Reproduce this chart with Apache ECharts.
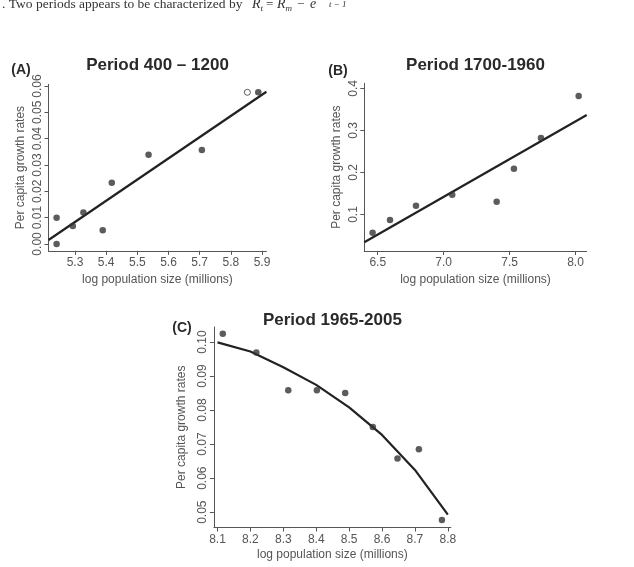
<!DOCTYPE html>
<html>
<head>
<meta charset="utf-8">
<script src="https://cdn.jsdelivr.net/npm/echarts@6/dist/echarts.min.js"></script>
<style>html,body{margin:0;padding:0;background:#fff}#c{width:634px;height:567px}</style>
</head>
<body>
<div id="c"></div>
<script>
// ---------- data ----------
// Panel A: Period 400 – 1200
const popA = [5.241, 5.241, 5.293, 5.327, 5.389, 5.418, 5.536, 5.707, 5.888];
const rateA = [0.0100, 0.0000, 0.0068, 0.0119, 0.0052, 0.0232, 0.0339, 0.0357, 0.0576];
const popA_open = [5.853];
const rateA_open = [0.0576];
const fitA_x = [5.215, 5.914];
const fitA_y = [0.0015, 0.0578];
const xTicksA = [5.3, 5.4, 5.5, 5.6, 5.7, 5.8, 5.9];
const yTicksA = [0.00, 0.01, 0.02, 0.03, 0.04, 0.05, 0.06];

// Panel B: Period 1700-1960
const popB = [6.461, 6.593, 6.790, 7.065, 7.402, 7.533, 7.738, 8.024];
const rateB = [0.0567, 0.0869, 0.1209, 0.1471, 0.1304, 0.2089, 0.2818, 0.3817];
const fitB_x = [6.398, 8.085];
const fitB_y = [0.034, 0.3365];
const xTicksB = [6.5, 7.0, 7.5, 8.0];
const yTicksB = [0.1, 0.2, 0.3, 0.4];

// Panel C: Period 1965-2005
const popC = [8.116, 8.218, 8.315, 8.402, 8.488, 8.572, 8.647, 8.712, 8.782];
const rateC = [0.1024, 0.0969, 0.0858, 0.0858, 0.0850, 0.0750, 0.0658, 0.0685, 0.0477];
const fitC_x = [8.1, 8.2, 8.3, 8.4, 8.5, 8.6, 8.7, 8.8];
const fitC_y = [0.0999, 0.0972, 0.0926, 0.0874, 0.0808, 0.0727, 0.0624, 0.0493];
const xTicksC = [8.1, 8.2, 8.3, 8.4, 8.5, 8.6, 8.7, 8.8];
const yTicksC = [0.05, 0.06, 0.07, 0.08, 0.09, 0.10];

const titles = ['Period 400 \u2013 1200', 'Period 1700-1960', 'Period 1965-2005'];
const panelTags = ['(A)', '(B)', '(C)'];
const xName = 'log population size (millions)';
const yName = 'Per capita growth rates';

// ---------- helpers ----------
const zip = (xs, ys) => xs.map((x, i) => [x, ys[i]]);
const FONT = 'Liberation Sans, Arial, sans-serif';
const AX = '#555';
const TXT = '#555';

function xAxisFor(gi, min, max, ticks, dec, gap) {
  return {
    type: 'value', gridIndex: gi, min: min, max: max, position: 'bottom',
    axisLine: {show: true, onZero: false, lineStyle: {color: AX, width: 1}},
    axisTick: {show: true, length: 4, customValues: ticks, lineStyle: {color: AX, width: 1}},
    axisLabel: {customValues: ticks, formatter: v => Number(v).toFixed(dec), margin: 6,
      color: TXT, fontSize: 12, fontFamily: FONT},
    splitLine: {show: false},
    name: xName, nameLocation: 'middle', nameGap: gap,
    nameTextStyle: {color: TXT, fontSize: 12, fontFamily: FONT}
  };
}
function yAxisFor(gi, min, max, ticks, dec, gap) {
  return {
    type: 'value', gridIndex: gi, min: min, max: max, position: 'left',
    axisLine: {show: true, onZero: false, lineStyle: {color: AX, width: 1}},
    axisTick: {show: true, length: 4, customValues: ticks, lineStyle: {color: AX, width: 1}},
    axisLabel: {customValues: ticks, formatter: v => Number(v).toFixed(dec), margin: 5, rotate: 90,
      color: TXT, fontSize: 12, fontFamily: FONT},
    splitLine: {show: false},
    name: yName, nameLocation: 'middle', nameGap: gap, nameRotate: 90,
    nameTextStyle: {color: TXT, fontSize: 12, fontFamily: FONT}
  };
}
function pts(gi, xs, ys) {
  return {type: 'scatter', xAxisIndex: gi, yAxisIndex: gi, data: zip(xs, ys),
    symbol: 'circle', symbolSize: 6.5, itemStyle: {color: '#333'}, clip: false, silent: true};
}
function fit(gi, xs, ys) {
  return {type: 'line', xAxisIndex: gi, yAxisIndex: gi, data: zip(xs, ys),
    showSymbol: false, symbol: 'none', lineStyle: {color: '#222', width: 2.2}, clip: false, silent: true, z: 1};
}
function txt(x, y, s, size, weight, color, family, style, align) {
  return {type: 'text', x: x, y: y, silent: true,
    style: {text: s, fontSize: size, fontWeight: weight || 'normal', fill: color || '#222',
      fontFamily: family || FONT, fontStyle: style || 'normal', align: align || 'center', verticalAlign: 'middle'}};
}

const SERIF = 'Liberation Serif, Times New Roman, serif';

const option = {
  animation: false,
  backgroundColor: '#fff',
  grid: [
    {left: 48.5, top: 84.4, width: 217.9, height: 166.4},
    {left: 364.3, top: 83.3, width: 222.4, height: 167.7},
    {left: 213.9, top: 327, width: 236.9, height: 200.5}
  ],
  xAxis: [
    xAxisFor(0, 5.215, 5.914, xTicksA, 1, 23),
    xAxisFor(1, 6.398, 8.085, xTicksB, 1, 23),
    xAxisFor(2, 8.089, 8.809, xTicksC, 1, 21.5)
  ],
  yAxis: [
    yAxisFor(0, -0.0026, 0.0606, yTicksA, 2, 21.5),
    yAxisFor(1, 0.0132, 0.4119, yTicksB, 1, 21.5),
    yAxisFor(2, 0.0455, 0.1044, yTicksC, 2, 26.3)
  ],
  series: [
    fit(0, fitA_x, fitA_y),
    pts(0, popA, rateA),
    {type: 'scatter', xAxisIndex: 0, yAxisIndex: 0, data: zip(popA_open, rateA_open),
      symbol: 'circle', symbolSize: 6, itemStyle: {color: '#fff', borderColor: '#333', borderWidth: 1}, silent: true},
    fit(1, fitB_x, fitB_y),
    pts(1, popB, rateB),
    fit(2, fitC_x, fitC_y),
    pts(2, popC, rateC)
  ],
  graphic: [
    txt(157.5, 65, titles[0], 17, 'bold', '#2a2a2a'),
    txt(475.5, 65, titles[1], 17, 'bold', '#2a2a2a'),
    txt(332.4, 320.7, titles[2], 17, 'bold', '#2a2a2a'),
    txt(21, 70, panelTags[0], 14, 'bold', '#2a2a2a'),
    txt(338, 71.5, panelTags[1], 14, 'bold', '#2a2a2a'),
    txt(182, 328, panelTags[2], 14, 'bold', '#2a2a2a'),
    // cropped line of article text at the top
    {type: 'text', x: 2, y: 4.5, silent: true,
      style: {text: '. Two periods appears to be characterized by', fontSize: 13.5, fill: '#333',
        fontFamily: SERIF, align: 'left', verticalAlign: 'middle', letterSpacing: 0.15}},
    txt(252, 4.5, 'R', 14, 'normal', '#333', SERIF, 'italic', 'left'),
    txt(260.5, 8.5, 't', 9, 'normal', '#333', SERIF, 'italic', 'left'),
    txt(266, 4.5, '=', 13, 'normal', '#333', SERIF, 'normal', 'left'),
    txt(277, 4.5, 'R', 14, 'normal', '#333', SERIF, 'italic', 'left'),
    txt(285.5, 8.5, 'm', 9, 'normal', '#333', SERIF, 'italic', 'left'),
    txt(297, 4.5, '\u2212', 13, 'normal', '#333', SERIF, 'normal', 'left'),
    txt(310, 4.5, 'e', 14, 'normal', '#333', SERIF, 'italic', 'left'),
    txt(329, 5, 't \u2212 1', 9, 'normal', '#333', SERIF, 'italic', 'left')
  ]
};

const chart = echarts.init(document.getElementById('c'), null, {renderer: 'canvas'});
chart.setOption(option);
</script>
</body>
</html>
